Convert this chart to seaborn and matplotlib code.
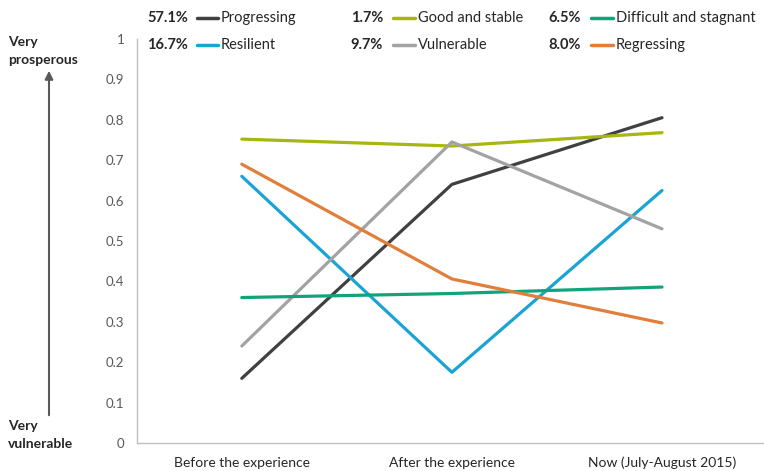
import pandas as pd
import seaborn as sns
import matplotlib.pyplot as plt
from matplotlib.ticker import FixedLocator

periodos = ['Before the experience', 'After the experience', 'Now (July-August 2015)']
grupos = ['Progressing', 'Resilient', 'Good and stable', 'Vulnerable',
          'Difficult and stagnant', 'Regressing']
percentuais = ['57.1%', '16.7%', '1.7%', '9.7%', '6.5%', '8.0%']
progressing = [0.16, 0.64, 0.805]
resilient = [0.66, 0.175, 0.625]
good_stable = [0.752, 0.735, 0.768]
vulnerable = [0.24, 0.745, 0.53]
difficult = [0.36, 0.37, 0.386]
regressing = [0.69, 0.406, 0.297]
y_ticks = [0, 0.1, 0.2, 0.3, 0.4, 0.5, 0.6, 0.7, 0.8, 0.9, 1]
y_labels = ['0', '0.1', '0.2', '0.3', '0.4', '0.5', '0.6', '0.7', '0.8', '0.9', '1']

cores = {'Progressing': '#404040', 'Resilient': '#1ba3d3',
         'Good and stable': '#a7b610', 'Vulnerable': '#a3a3a3',
         'Difficult and stagnant': '#0fa47a', 'Regressing': '#e17f3a'}

valores = [progressing, resilient, good_stable, vulnerable, difficult, regressing]
dados = pd.DataFrame([
    {'Periodo': p, 'Grupo': g, 'Valor': v}
    for g, vals in zip(grupos, valores)
    for p, v in zip(periodos, vals)
])

sns.set_style('white')
plt.rcParams['font.family'] = ['Lato', 'DejaVu Sans']

fig = plt.figure(figsize=(7.64, 4.71), dpi=100)
ax = fig.add_axes([0.179, 0.0594, 0.825, 0.858])

sns.lineplot(data=dados, x='Periodo', y='Valor', hue='Grupo', hue_order=grupos,
             palette=cores, sort=False, linewidth=2.3, legend=False, ax=ax)

ax.set_xlim(-0.5, 2.5)
ax.set_ylim(0, 1)
ax.set_yticks(y_ticks)
ax.set_yticklabels(y_labels)
ax.set_xlabel('')
ax.set_ylabel('')
for s in ['top', 'right']:
    ax.spines[s].set_visible(False)
for s in ['left', 'bottom']:
    ax.spines[s].set_color('#bfbfbf')
    ax.spines[s].set_linewidth(1)
ax.xaxis.set_minor_locator(FixedLocator([0.5, 1.5]))
ax.tick_params(axis='x', which='major', length=0, pad=10, labelsize=10, labelcolor='#262626')
ax.tick_params(axis='x', which='minor', length=5, color='#bfbfbf', width=1)
ax.tick_params(axis='y', length=4, color='#bfbfbf', width=1, pad=5,
               labelsize=9.5, labelcolor='#595959')

# legenda manual em duas linhas (percentual, traço, nome)
W, H = 764, 471
colunas = [(188, 197, 218, 221), (383, 393, 415, 418), (581, 591, 613, 616)]
linhas_y = [18, 45]
for i, (g, pct) in enumerate(zip(grupos, percentuais)):
    col = colunas[i // 2]
    yy = 1 - linhas_y[i % 2] / H
    fig.text(col[0] / W, yy, pct, fontsize=10.5, fontweight='bold',
             color='#262626', va='center', ha='right')
    fig.add_artist(plt.Line2D([col[1] / W, col[2] / W], [yy, yy],
                              color=cores[g], linewidth=2.5))
    fig.text(col[3] / W, yy, g, fontsize=10.5, color='#262626',
             va='center', ha='left')

fig.text(8 / W, 1 - 51 / H, 'Very\nprosperous', fontsize=10, fontweight='bold',
         color='#262626', va='center', ha='left', linespacing=1.7)
fig.text(8 / W, 1 - 435 / H, 'Very\nvulnerable', fontsize=10, fontweight='bold',
         color='#262626', va='center', ha='left', linespacing=1.7)
ax.annotate('', xy=(49 / W, 1 - 68 / H), xytext=(49 / W, 1 - 418 / H),
            xycoords='figure fraction', textcoords='figure fraction',
            arrowprops=dict(arrowstyle='-|>', color='#595959', lw=1.5,
                            mutation_scale=12))

fig.savefig('out.png', dpi=100)
